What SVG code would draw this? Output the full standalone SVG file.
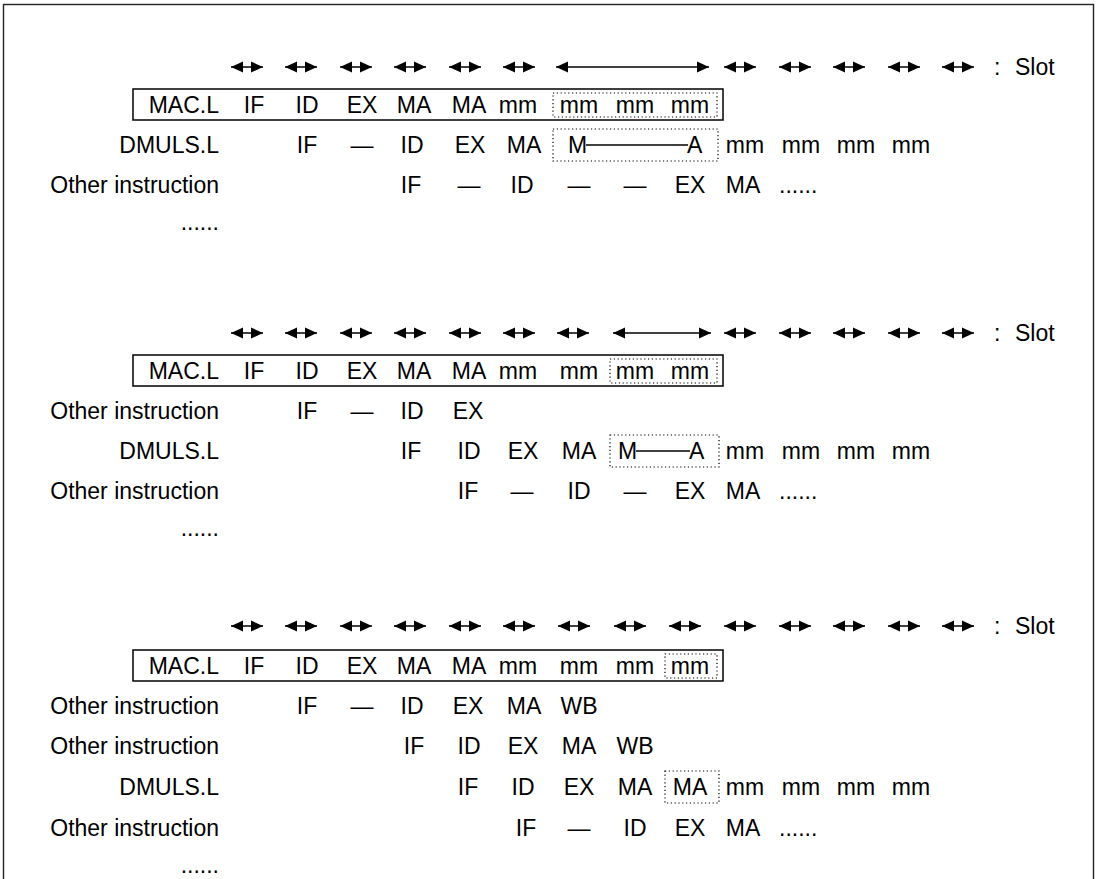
<svg xmlns="http://www.w3.org/2000/svg" width="1098" height="879" viewBox="0 0 1098 879">
<style>
text{font-family:"Liberation Sans",Arial,sans-serif;font-size:23px;fill:#000}
.m{text-anchor:middle}
.e{text-anchor:end}
.box{fill:none;stroke:#000;stroke-width:1.5}
.dot{fill:none;stroke:#000;stroke-width:1.2;stroke-dasharray:1.2 2.6}
.arr{stroke:#000;stroke-width:1.5;marker-start:url(#ah);marker-end:url(#ah)}
.bar{stroke:#000;stroke-width:1.4}
</style>
<defs>
<marker id="ah" viewBox="0 0 12 12" markerWidth="12" markerHeight="12" refX="12" refY="6" orient="auto-start-reverse" markerUnits="userSpaceOnUse"><path d="M0,0.5 L12,6 L0,11.5 z" fill="#000"/></marker>
</defs>
<rect x="3.5" y="4.5" width="1090" height="900" fill="#fff" stroke="#222" stroke-width="1.4"/>

<!-- Section 1 -->
<g id="s1-slots">
<line class="arr" x1="231" y1="67" x2="263" y2="67"/><line class="arr" x1="285" y1="67" x2="317" y2="67"/><line class="arr" x1="340" y1="67" x2="372" y2="67"/><line class="arr" x1="394" y1="67" x2="426" y2="67"/><line class="arr" x1="449" y1="67" x2="481" y2="67"/><line class="arr" x1="503" y1="67" x2="535" y2="67"/>
<line class="arr" x1="556" y1="67" x2="709" y2="67"/>
<line class="arr" x1="724" y1="67" x2="756" y2="67"/><line class="arr" x1="779" y1="67" x2="811" y2="67"/><line class="arr" x1="833" y1="67" x2="865" y2="67"/><line class="arr" x1="888" y1="67" x2="920" y2="67"/><line class="arr" x1="942" y1="67" x2="974" y2="67"/>
<text x="994" y="75">:</text><text x="1015" y="75">Slot</text>
</g>
<g id="s1-mac">
<rect class="box" x="133" y="89" width="590" height="31"/>
<rect class="dot" x="553" y="93" width="164" height="24"/>
<text class="e" x="219" y="113">MAC.L</text>
<text class="m" x="254" y="113">IF</text><text class="m" x="307" y="113">ID</text><text class="m" x="362" y="113">EX</text><text class="m" x="414" y="113">MA</text><text class="m" x="469" y="113">MA</text><text class="m" x="518" y="113">mm</text><text class="m" x="579" y="113">mm</text><text class="m" x="635" y="113">mm</text><text class="m" x="690" y="113">mm</text>
</g>
<g id="s1-dmuls">
<rect class="dot" x="553" y="129" width="165" height="32"/>
<text class="e" x="219" y="153">DMULS.L</text>
<text class="m" x="307" y="153">IF</text><text class="m" x="362" y="153">—</text><text class="m" x="412" y="153">ID</text><text class="m" x="470" y="153">EX</text><text class="m" x="524" y="153">MA</text>
<text x="568" y="153">M</text><line class="bar" x1="586" y1="145" x2="688" y2="145"/><text x="687" y="153">A</text>
<text class="m" x="745" y="153">mm</text><text class="m" x="801" y="153">mm</text><text class="m" x="856" y="153">mm</text><text class="m" x="911" y="153">mm</text>
</g>
<g id="s1-other">
<text class="e" x="219" y="193">Other instruction</text>
<text class="m" x="411" y="193">IF</text><text class="m" x="469" y="193">—</text><text class="m" x="522" y="193">ID</text><text class="m" x="579" y="193">—</text><text class="m" x="635" y="193">—</text><text class="m" x="690" y="193">EX</text><text class="m" x="743" y="193">MA</text><text x="779" y="193">......</text>
</g>
<g id="s1-more"><text class="e" x="219" y="230">......</text></g>

<!-- Section 2 -->
<g id="s2-slots">
<line class="arr" x1="231" y1="333" x2="263" y2="333"/><line class="arr" x1="285" y1="333" x2="317" y2="333"/><line class="arr" x1="340" y1="333" x2="372" y2="333"/><line class="arr" x1="394" y1="333" x2="426" y2="333"/><line class="arr" x1="449" y1="333" x2="481" y2="333"/><line class="arr" x1="503" y1="333" x2="535" y2="333"/><line class="arr" x1="557" y1="333" x2="589" y2="333"/>
<line class="arr" x1="613" y1="333" x2="711" y2="333"/>
<line class="arr" x1="724" y1="333" x2="756" y2="333"/><line class="arr" x1="779" y1="333" x2="811" y2="333"/><line class="arr" x1="833" y1="333" x2="865" y2="333"/><line class="arr" x1="888" y1="333" x2="920" y2="333"/><line class="arr" x1="942" y1="333" x2="974" y2="333"/>
<text x="994" y="341">:</text><text x="1015" y="341">Slot</text>
</g>
<g id="s2-mac">
<rect class="box" x="133" y="355" width="590" height="31"/>
<rect class="dot" x="610" y="359" width="107" height="24"/>
<text class="e" x="219" y="379">MAC.L</text>
<text class="m" x="254" y="379">IF</text><text class="m" x="307" y="379">ID</text><text class="m" x="362" y="379">EX</text><text class="m" x="414" y="379">MA</text><text class="m" x="469" y="379">MA</text><text class="m" x="518" y="379">mm</text><text class="m" x="579" y="379">mm</text><text class="m" x="635" y="379">mm</text><text class="m" x="690" y="379">mm</text>
</g>
<g id="s2-other1">
<text class="e" x="219" y="419">Other instruction</text>
<text class="m" x="307" y="419">IF</text><text class="m" x="362" y="419">—</text><text class="m" x="412" y="419">ID</text><text class="m" x="468" y="419">EX</text>
</g>
<g id="s2-dmuls">
<rect class="dot" x="610" y="435" width="109" height="32"/>
<text class="e" x="219" y="459">DMULS.L</text>
<text class="m" x="411" y="459">IF</text><text class="m" x="469" y="459">ID</text><text class="m" x="523" y="459">EX</text><text class="m" x="579" y="459">MA</text>
<text x="618" y="459">M</text><line class="bar" x1="636" y1="451" x2="690" y2="451"/><text x="689" y="459">A</text>
<text class="m" x="745" y="459">mm</text><text class="m" x="801" y="459">mm</text><text class="m" x="856" y="459">mm</text><text class="m" x="911" y="459">mm</text>
</g>
<g id="s2-other2">
<text class="e" x="219" y="499">Other instruction</text>
<text class="m" x="468" y="499">IF</text><text class="m" x="522" y="499">—</text><text class="m" x="579" y="499">ID</text><text class="m" x="635" y="499">—</text><text class="m" x="690" y="499">EX</text><text class="m" x="743" y="499">MA</text><text x="779" y="499">......</text>
</g>
<g id="s2-more"><text class="e" x="219" y="536">......</text></g>

<!-- Section 3 -->
<g id="s3-slots">
<line class="arr" x1="231" y1="626" x2="263" y2="626"/><line class="arr" x1="285" y1="626" x2="317" y2="626"/><line class="arr" x1="340" y1="626" x2="372" y2="626"/><line class="arr" x1="394" y1="626" x2="426" y2="626"/><line class="arr" x1="449" y1="626" x2="481" y2="626"/><line class="arr" x1="503" y1="626" x2="535" y2="626"/><line class="arr" x1="558" y1="626" x2="590" y2="626"/><line class="arr" x1="614" y1="626" x2="646" y2="626"/><line class="arr" x1="669" y1="626" x2="701" y2="626"/>
<line class="arr" x1="724" y1="626" x2="756" y2="626"/><line class="arr" x1="779" y1="626" x2="811" y2="626"/><line class="arr" x1="833" y1="626" x2="865" y2="626"/><line class="arr" x1="888" y1="626" x2="920" y2="626"/><line class="arr" x1="942" y1="626" x2="974" y2="626"/>
<text x="994" y="634">:</text><text x="1015" y="634">Slot</text>
</g>
<g id="s3-mac">
<rect class="box" x="133" y="650" width="590" height="31"/>
<rect class="dot" x="665" y="654" width="52" height="24"/>
<text class="e" x="219" y="674">MAC.L</text>
<text class="m" x="254" y="674">IF</text><text class="m" x="307" y="674">ID</text><text class="m" x="362" y="674">EX</text><text class="m" x="414" y="674">MA</text><text class="m" x="469" y="674">MA</text><text class="m" x="518" y="674">mm</text><text class="m" x="579" y="674">mm</text><text class="m" x="635" y="674">mm</text><text class="m" x="690" y="674">mm</text>
</g>
<g id="s3-other1">
<text class="e" x="219" y="714">Other instruction</text>
<text class="m" x="307" y="714">IF</text><text class="m" x="362" y="714">—</text><text class="m" x="412" y="714">ID</text><text class="m" x="468" y="714">EX</text><text class="m" x="524" y="714">MA</text><text class="m" x="579" y="714">WB</text>
</g>
<g id="s3-other2">
<text class="e" x="219" y="754">Other instruction</text>
<text class="m" x="414" y="754">IF</text><text class="m" x="469" y="754">ID</text><text class="m" x="523" y="754">EX</text><text class="m" x="579" y="754">MA</text><text class="m" x="635" y="754">WB</text>
</g>
<g id="s3-dmuls">
<rect class="dot" x="665" y="771" width="54" height="32"/>
<text class="e" x="219" y="795">DMULS.L</text>
<text class="m" x="468" y="795">IF</text><text class="m" x="523" y="795">ID</text><text class="m" x="579" y="795">EX</text><text class="m" x="635" y="795">MA</text><text class="m" x="690" y="795">MA</text>
<text class="m" x="745" y="795">mm</text><text class="m" x="801" y="795">mm</text><text class="m" x="856" y="795">mm</text><text class="m" x="911" y="795">mm</text>
</g>
<g id="s3-other3">
<text class="e" x="219" y="836">Other instruction</text>
<text class="m" x="526" y="836">IF</text><text class="m" x="579" y="836">—</text><text class="m" x="635" y="836">ID</text><text class="m" x="690" y="836">EX</text><text class="m" x="743" y="836">MA</text><text x="779" y="836">......</text>
</g>
<g id="s3-more"><text class="e" x="219" y="873">......</text></g>
</svg>
